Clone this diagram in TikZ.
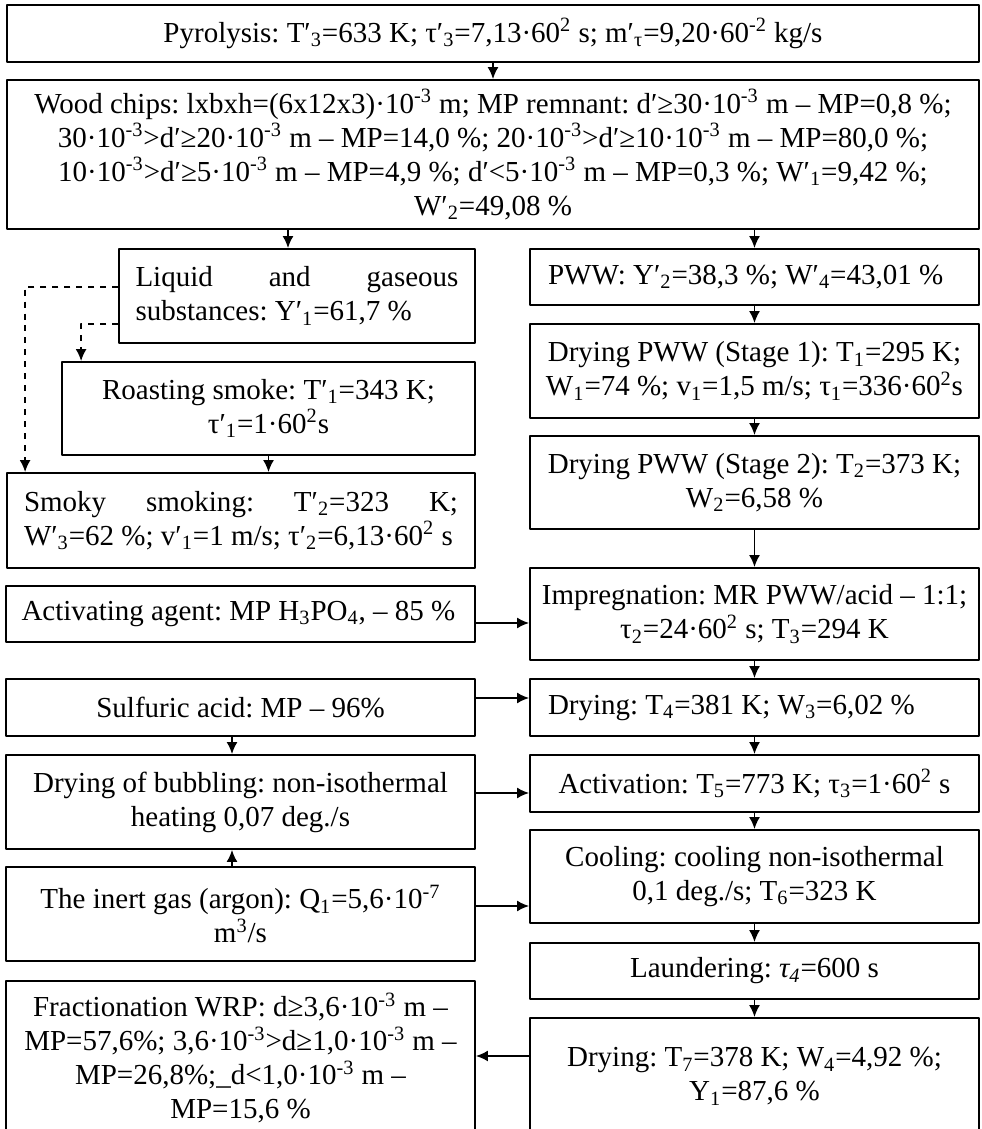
\documentclass[tikz,border=0pt]{standalone}
\usepackage{fontspec}
\setmainfont{Liberation Serif}
\usepackage{tikz}
\usetikzlibrary{arrows.meta}
\newcommand{\dnx}[1]{\textsubscript{#1}}
\newcommand{\upx}[1]{\textsuperscript{#1}}
\tikzset{box/.style={draw,rectangle,inner sep=0pt,align=center,
  font=\fontsize{14.5bp}{17bp}\selectfont\frenchspacing}}
\begin{document}
\begin{tikzpicture}[>={Latex[length=6bp,width=5.5bp]},line width=0.9bp,line join=bevel,]
\useasboundingbox (0bp,0bp) rectangle (491bp,564.5bp);
%%
\node (node_pyro) at (246.5bp,547.75bp) [box,minimum width=486bp,minimum height=28.5bp] {Pyrolysis: T′\dnx{3}=633 K; τ′\dnx{3}=7,13·60\upx{2} s; m′\dnx{τ}=9,20·60\upx{-2} kg/s};
  \node (node_chips) at (246.5bp,487.25bp) [box,minimum width=486bp,minimum height=74.5bp] {Wood chips: lxbxh=(6x12x3)·10\upx{-3} m; MP remnant: d′≥30·10\upx{-3} m – MP=0,8 \%;\\
    30·10\upx{-3}>d′≥20·10\upx{-3} m – MP=14,0 \%; 20·10\upx{-3}>d′≥10·10\upx{-3} m – MP=80,0 \%;\\
    10·10\upx{-3}>d′≥5·10\upx{-3} m – MP=4,9 \%; d′<5·10\upx{-3} m – MP=0,3 \%; W′\dnx{1}=9,42 \%;\\
    W′\dnx{2}=49,08 \%};
  \node (node_liquid) at (148.5bp,416.5bp) [box,minimum width=178bp,minimum height=47bp,text width=161.5bp,align=justify] {Liquid and gaseous\linebreak substances: Y′\dnx{1}=61,7 \%};
  \node (node_roast) at (134.25bp,360.25bp) [box,minimum width=206.5bp,minimum height=46.5bp] {Roasting smoke: T′\dnx{1}=343 K;\\ τ′\dnx{1}=1·60\upx{2}s};
  \node (node_smoky) at (120.5bp,304.25bp) [box,minimum width=234bp,minimum height=47.5bp,text width=217bp,align=justify] {Smoky smoking: T′\dnx{2}=323 K;\linebreak W′\dnx{3}=62 \%; v′\dnx{1}=1 m/s; τ′\dnx{2}=6,13·60\upx{2} s};
  \node (node_pww) at (377.25bp,426bp) [box,minimum width=224.5bp,minimum height=28bp,text width=206.5bp,align=flush left] {PWW: Y′\dnx{2}=38,3 \%; W′\dnx{4}=43,01 \%};
  \node (node_dryone) at (377.25bp,379bp) [box,minimum width=224.5bp,minimum height=47bp] {Drying PWW (Stage 1): T\dnx{1}=295 K;\\ W\dnx{1}=74 \%; v\dnx{1}=1,5 m/s; τ\dnx{1}=336·60\upx{2}s};
  \node (node_drytwo) at (377.25bp,323.25bp) [box,minimum width=224.5bp,minimum height=46.5bp] {Drying PWW (Stage 2): T\dnx{2}=373 K;\\ W\dnx{2}=6,58 \%};
  \node (node_agent) at (120.25bp,257.5bp) [box,minimum width=234.5bp,minimum height=28bp,text width=219bp,align=flush left] {Activating agent: MP H\dnx{3}PO\dnx{4}, – 85 \%};
  \node (node_impreg) at (377.25bp,257.5bp) [box,minimum width=224.5bp,minimum height=46bp] {Impregnation: MR PWW/acid – 1:1;\\ τ\dnx{2}=24·60\upx{2} s; T\dnx{3}=294 K};
  \node (node_sulf) at (120.25bp,210.75bp) [box,minimum width=234.5bp,minimum height=28.5bp] {Sulfuric acid: MP – 96\%};
  \node (node_drythree) at (377.25bp,210.75bp) [box,minimum width=224.5bp,minimum height=28.5bp,text width=206.5bp,align=flush left] {Drying: T\dnx{4}=381 K; W\dnx{3}=6,02 \%};
  \node (node_bubble) at (120.25bp,163.5bp) [box,minimum width=234.5bp,minimum height=47bp] {Drying of bubbling: non-isothermal\\ heating 0,07 deg./s};
  \node (node_activ) at (377.25bp,172.75bp) [box,minimum width=224.5bp,minimum height=28.5bp] {Activation: T\dnx{5}=773 K; τ\dnx{3}=1·60\upx{2} s};
  \node (node_inert) at (120.25bp,107.5bp) [box,minimum width=234.5bp,minimum height=47bp] {The inert gas (argon): Q\dnx{1}=5,6·10\upx{-7}\\ m\upx{3}/s};
  \node (node_cool) at (377.25bp,126.25bp) [box,minimum width=224.5bp,minimum height=46.5bp] {Cooling: cooling non-isothermal\\ 0,1 deg./s; T\dnx{6}=323 K};
  \node (node_laund) at (377.25bp,79bp) [box,minimum width=224.5bp,minimum height=28bp] {Laundering: \textit{τ\dnx{4}}=600 s};
  \node (node_fract) at (120.25bp,35.5bp) [box,minimum width=234.5bp,minimum height=77bp] {Fractionation WRP: d≥3,6·10\upx{-3} m –\\ MP=57,6\%; 3,6·10\upx{-3}>d≥1,0·10\upx{-3} m –\\ MP=26,8\%;\_d<1,0·10\upx{-3} m –\\ MP=15,6 \%};
  \node (node_dryfour) at (377.25bp,26.25bp) [box,minimum width=224.5bp,minimum height=58.5bp] {Drying: T\dnx{7}=378 K; W\dnx{4}=4,92 \%;\\ Y\dnx{1}=87,6 \%};
  \draw [black,->] (node_pyro) -- (node_chips);
  \draw [black,->] ([xshift=-4.5bp]node_liquid.north |- node_chips.south) -- ([xshift=-4.5bp]node_liquid.north);
  \draw [black,->] (node_pww.north |- node_chips.south) -- (node_pww);
  \draw [black,dashed,->] ([yshift=4.5bp]node_liquid.west) -| ([xshift=9.5bp]node_smoky.north west);
  \draw [black,dashed,->] ([yshift=-14bp]node_liquid.west) -| ([xshift=10bp]node_roast.north west);
  \draw [black,->] (node_roast) -- (node_roast |- node_smoky.north);
  \draw [black,->] (node_pww) -- (node_dryone);
  \draw [black,->] (node_dryone) -- (node_drytwo);
  \draw [black,->] (node_drytwo) -- (node_impreg);
  \draw [black,->] ([yshift=-4.5bp]node_agent.east) -- ([yshift=-4.5bp]node_impreg.west);
  \draw [black,->] (node_impreg) -- (node_drythree);
  \draw [black,->] ([yshift=4.75bp]node_sulf.east) -- ([yshift=4.75bp]node_drythree.west);
  \draw [black,->] ([xshift=-4.25bp]node_sulf.south) -- ([xshift=-4.25bp]node_bubble.north);
  \draw [black,->] (node_drythree) -- (node_activ);
  \draw [black,->] ([yshift=4.5bp]node_bubble.east) -- ([yshift=4.5bp]node_bubble.east -| node_activ.west);
  \draw [black,->] ([xshift=-4.25bp]node_inert.north) -- ([xshift=-4.25bp]node_bubble.south);
  \draw [black,->] (node_activ) -- (node_cool);
  \draw [black,->] ([yshift=4bp]node_inert.east) -- ([yshift=4bp]node_inert.east -| node_cool.west);
  \draw [black,->] (node_cool) -- (node_laund);
  \draw [black,->] (node_laund) -- (node_dryfour);
  \draw [black,->] ([yshift=10.25bp]node_dryfour.west) -- ([yshift=10.25bp]node_dryfour.west -| node_fract.east);
%
\end{tikzpicture}
\end{document}
